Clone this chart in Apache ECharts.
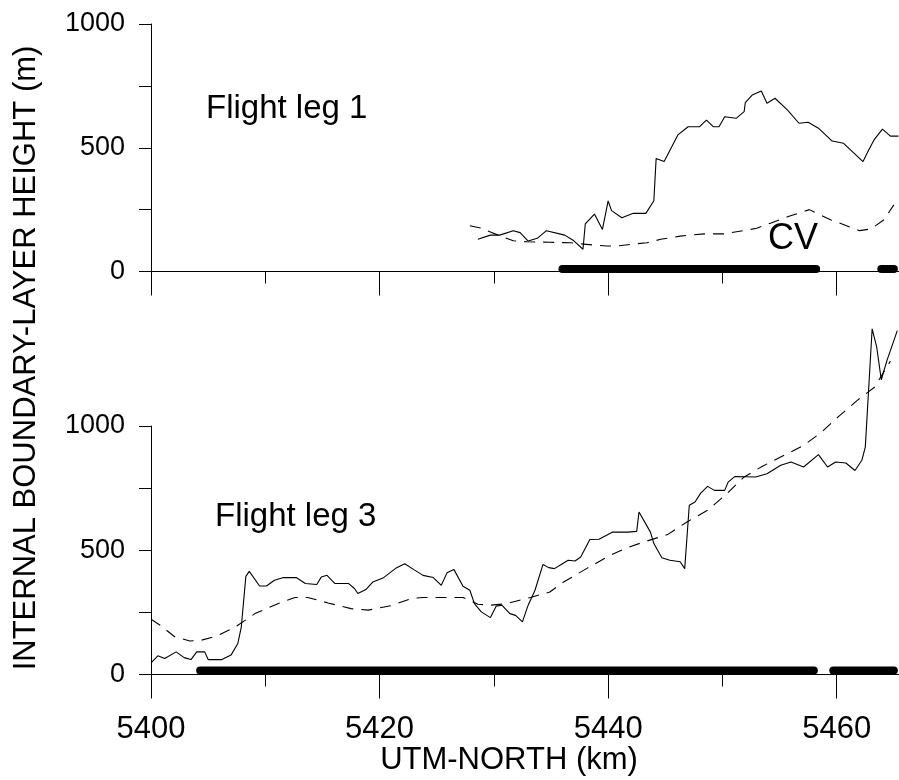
<!DOCTYPE html>
<html>
<head>
<meta charset="utf-8">
<script src="https://cdn.jsdelivr.net/npm/echarts@6/dist/echarts.min.js"></script>
<style>
  html, body { margin: 0; padding: 0; background: #fff; }
  #chart { width: 899px; height: 780px; }
</style>
</head>
<body>
<div id="chart"></div>
<script>
// Flight leg 1: IBL height along track (km UTM-north, m)
const leg1ObsKm = [5428.6, 5429.7, 5430.5, 5431.7, 5432.3, 5433.0, 5433.8, 5434.6, 5436.2, 5437.0,
  5437.8, 5438.0, 5438.8, 5439.5, 5440.0, 5440.3, 5441.2, 5442.2, 5443.3, 5444.0,
  5444.2, 5444.9, 5446.1, 5447.0, 5448.0, 5448.6, 5449.2, 5449.7, 5450.2, 5451.2,
  5451.9, 5452.0, 5452.6, 5453.4, 5453.9, 5454.6, 5455.7, 5456.7, 5457.5, 5458.4,
  5459.6, 5460.6, 5462.3, 5462.8, 5463.3, 5464.0, 5464.7, 5465.4];
const leg1ObsH = [130, 147, 147, 165, 157, 123, 134, 165, 147, 124,
  90, 192, 232, 170, 285, 246, 217, 235, 235, 286,
  457, 444, 552, 585, 585, 612, 585, 585, 625, 619,
  646, 682, 713, 729, 680, 700, 652, 599, 603, 579,
  527, 518, 444, 491, 534, 575, 547, 547];

const leg1ModKm = [5427.9, 5428.9, 5429.8, 5430.7, 5431.7, 5432.9, 5434.9, 5436.7, 5438.7, 5439.9,
  5440.8, 5442.2, 5443.4, 5444.6, 5446.3, 5448.4, 5450.1, 5452.2, 5453.0, 5454.2,
  5455.7, 5457.6, 5458.6, 5459.5, 5460.3, 5462.0, 5463.0, 5464.1, 5465.0];
const leg1ModH = [185, 175, 158, 141, 124, 120, 118, 116, 107, 103,
  103, 111, 116, 130, 143, 152, 152, 168, 175, 195,
  221, 250, 228, 208, 195, 165, 172, 208, 269];

// Flight leg 3
const leg3ObsKm = [5400.0, 5400.6, 5401.2, 5402.2, 5402.9, 5403.5, 5404.0, 5404.7, 5405.0, 5406.2,
  5407.0, 5407.6, 5407.9, 5408.3, 5408.6, 5409.5, 5410.1, 5410.8, 5411.6, 5412.7,
  5413.5, 5414.5, 5414.9, 5415.4, 5416.1, 5417.3, 5417.8, 5418.1, 5418.8, 5419.4,
  5420.3, 5421.0, 5421.5, 5422.2, 5423.0, 5423.8, 5424.7, 5425.4, 5425.9, 5426.5,
  5427.3, 5427.9, 5428.3, 5428.9, 5429.7, 5430.2, 5430.7, 5431.4, 5431.9, 5432.5,
  5433.0, 5433.6, 5434.3, 5434.8, 5435.3, 5436.0, 5436.5, 5437.1, 5437.6, 5438.4,
  5439.2, 5440.4, 5441.7, 5442.5, 5442.7, 5443.7, 5444.0, 5444.7, 5445.4, 5446.3,
  5446.7, 5447.1, 5447.6, 5448.1, 5448.7, 5449.3, 5450.2, 5450.5, 5451.1, 5452.9,
  5453.9, 5455.1, 5456.0, 5457.1, 5458.4, 5459.2, 5459.9, 5460.8, 5461.6, 5462.2,
  5462.5, 5463.1, 5463.5, 5463.9, 5464.4, 5465.3];
const leg3ObsH = [47, 75, 64, 91, 68, 60, 91, 91, 60, 60,
  78, 125, 191, 395, 415, 356, 356, 379, 390, 390,
  366, 362, 392, 399, 366, 366, 346, 326, 342, 372,
  388, 413, 430, 446, 422, 399, 390, 359, 409, 423,
  355, 339, 285, 252, 229, 275, 279, 245, 238, 212,
  279, 339, 443, 430, 426, 446, 460, 457, 473, 543,
  544, 573, 573, 576, 654, 573, 527, 470, 460, 454,
  426, 681, 694, 730, 757, 741, 741, 774, 797, 795,
  808, 842, 855, 835, 885, 835, 855, 851, 821, 862,
  915, 1391, 1317, 1186, 1264, 1384];

const leg3ModKm = [5400.0, 5400.8, 5402.1, 5403.4, 5404.4, 5405.7, 5407.3, 5409.1, 5411.1, 5412.6,
  5413.7, 5415.5, 5417.5, 5419.0, 5421.0, 5422.8, 5423.8, 5427.3, 5428.6, 5429.7,
  5431.1, 5433.2, 5434.9, 5436.1, 5438.1, 5440.2, 5441.7, 5443.1, 5445.2, 5446.9,
  5448.7, 5450.4, 5451.9, 5453.5, 5455.4, 5457.1, 5458.7, 5460.1, 5461.8, 5463.3,
  5464.7];
const leg3ModH = [222, 198, 151, 135, 138, 154, 189, 245, 285, 310,
  310, 288, 265, 259, 277, 306, 310, 310, 283, 279,
  285, 310, 332, 372, 426, 480, 511, 533, 563, 614,
  661, 728, 795, 838, 882, 922, 976, 1036, 1103, 1156,
  1261];

// Over-water (CV) stretches marked along the track: [start km, end km]
const leg1Segments = [[5436.0, 5458.2], [5463.9, 5465.0]];
const leg3Segments = [[5404.3, 5458.0], [5459.7, 5465.0]];
const leg1SegmentH = 10;
const leg3SegmentH = 16;

// Axis settings
const xMin = 5400, xMax = 5465.45;
const xTickStep = 20;
const yMin = 0, yMax = 1000, yTickStep = 250;

const FONT = "'Liberation Sans', Arial, Helvetica, sans-serif";

function zip(xs, ys) { return xs.map((x, i) => [x, ys[i]]); }

const chart = echarts.init(document.getElementById('chart'), null, { renderer: 'canvas' });

function xAxisCfg(gridIndex, showLabels) {
  return {
    type: 'value', gridIndex, min: xMin, max: xMax, interval: xTickStep,
    axisLine: { show: true, onZero: false, lineStyle: { color: '#000', width: 1 } },
    axisTick: { show: true, length: 24, lineStyle: { color: '#000', width: 1 } },
    minorTick: { show: true, splitNumber: 2, length: 12, lineStyle: { color: '#000', width: 1 } },
    splitLine: { show: false },
    axisLabel: {
      show: showLabels, margin: 55, color: '#000', fontSize: 31, fontFamily: FONT,
      verticalAlign: 'middle', showMaxLabel: false,
      formatter: v => String(v)
    }
  };
}
function yAxisCfg(gridIndex) {
  return {
    type: 'value', gridIndex, min: yMin, max: yMax, interval: yTickStep,
    axisLine: { show: true, lineStyle: { color: '#000', width: 1 } },
    axisTick: { show: true, length: 12, lineStyle: { color: '#000', width: 1 } },
    splitLine: { show: false },
    axisLabel: {
      margin: 26, color: '#000', fontSize: 27, fontFamily: FONT,
      formatter: v => (v % 500 === 0 ? String(v) : '')
    }
  };
}

function lineSeries(idx, data, dashed) {
  return {
    type: 'line', xAxisIndex: idx, yAxisIndex: idx, data,
    symbol: 'none', clip: false, silent: true,
    lineStyle: { color: '#000', width: 1.1, type: dashed ? [11, 8] : 'solid' }
  };
}
function segmentSeries(idx, segs, h) {
  return segs.map(s => ({
    type: 'line', xAxisIndex: idx, yAxisIndex: idx,
    data: [[s[0], h], [s[1], h]],
    symbol: 'none', clip: false, silent: true,
    lineStyle: { color: '#000', width: 8, cap: 'round' }
  }));
}

chart.setOption({
  animation: false,
  backgroundColor: '#fff',
  grid: [
    { left: 151, top: 24, width: 748, height: 247.5 },
    { left: 151, top: 426, width: 748, height: 248.5 }
  ],
  xAxis: [xAxisCfg(0, false), xAxisCfg(1, true)],
  yAxis: [yAxisCfg(0), yAxisCfg(1)],
  series: [
    lineSeries(0, zip(leg1ModKm, leg1ModH), true),
    lineSeries(0, zip(leg1ObsKm, leg1ObsH), false),
    lineSeries(1, zip(leg3ModKm, leg3ModH), true),
    lineSeries(1, zip(leg3ObsKm, leg3ObsH), false),
    ...segmentSeries(0, leg1Segments, leg1SegmentH),
    ...segmentSeries(1, leg3Segments, leg3SegmentH)
  ],
  graphic: [
    { type: 'text', x: 206, y: 109,
      style: { text: 'Flight leg 1', fill: '#000', font: '33px ' + FONT, textAlign: 'left', textVerticalAlign: 'middle' } },
    { type: 'text', x: 215, y: 517,
      style: { text: 'Flight leg 3', fill: '#000', font: '33px ' + FONT, textAlign: 'left', textVerticalAlign: 'middle' } },
    { type: 'text', x: 768, y: 239,
      style: { text: 'CV', fill: '#000', font: '36px ' + FONT, textAlign: 'left', textVerticalAlign: 'middle' } },
    { type: 'text', x: 509, y: 760,
      style: { text: 'UTM-NORTH (km)', fill: '#000', font: '31px ' + FONT, textAlign: 'center', textVerticalAlign: 'middle' } },
    { type: 'text', x: 26, y: 358, rotation: Math.PI / 2,
      style: { text: 'INTERNAL BOUNDARY-LAYER HEIGHT (m)', fill: '#000', font: '31px ' + FONT, textAlign: 'center', textVerticalAlign: 'middle' } }
  ]
});
</script>
</body>
</html>
